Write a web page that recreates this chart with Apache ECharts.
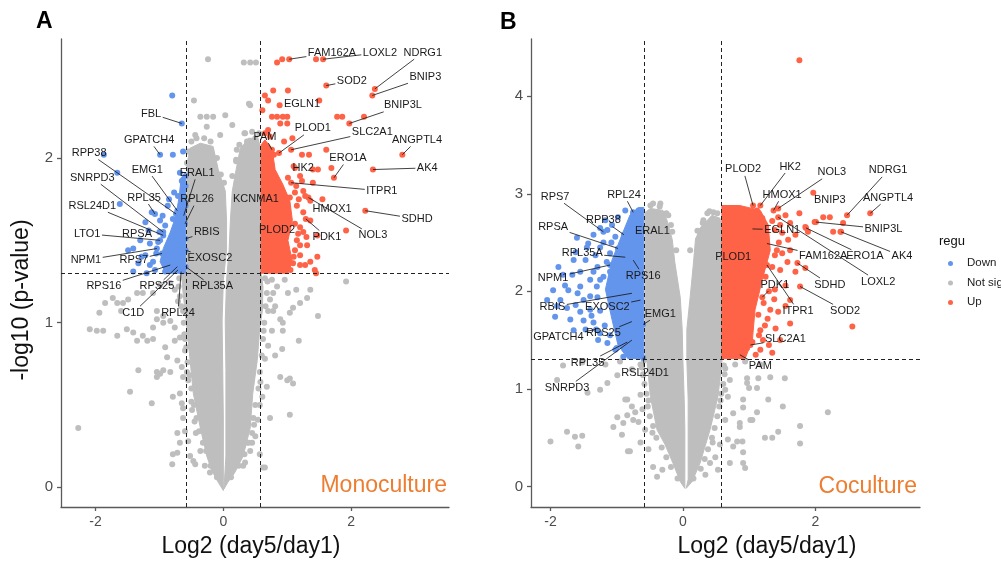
<!DOCTYPE html>
<html><head><meta charset="utf-8">
<script src="https://cdn.jsdelivr.net/npm/echarts@6/dist/echarts.min.js"></script>
<style>html,body{margin:0;padding:0;background:#fff}#c{width:1001px;height:565px}</style>
</head><body><div id="c"></div>
<script>
// ---------- thresholds / ticks ----------
const fcCut = 0.585, pCut = 1.301;
const xTicks = [-2, 0, 2];
const yTicksA = [0, 1, 2];
const yTicksB = [0, 1, 2, 3, 4];
const legendNames = ['Down', 'Not sig', 'Up'];
const panelTitles = ['Monoculture', 'Coculture'];
const xTitle = 'Log2 (day5/day1)';
const yTitle = '-log10 (p-value)';

// ---------- Panel A (Monoculture) ----------
// dense Not-sig cloud outlines (data units)
const greyCoreA_left = [[0.00,-0.02],[-0.08,0.03],[-0.18,0.10],[-0.26,0.19],[-0.36,0.36],[-0.47,0.57],[-0.52,0.77],[-0.57,0.97],[-0.63,1.18],[-0.65,1.29],[-0.57,1.32],[-0.57,1.96],[-0.52,2.06],[-0.36,2.09],[-0.16,2.07],[-0.08,1.93],[0.03,1.80],[0.05,1.62],[0.05,1.44],[0.0,1.26],[-0.02,1.01],[-0.01,0.71],[0.0,0.41],[0.0,0.19],[0.0,0.04]];
const greyCoreA_right = [[0.26,2.05],[0.39,2.12],[0.54,2.12],[0.59,2.05],[0.59,1.30],[0.62,1.22],[0.61,1.07],[0.57,0.97],[0.53,0.77],[0.46,0.57],[0.42,0.36],[0.31,0.19],[0.18,0.09],[0.07,0.03],[0.01,-0.01],[0.04,0.19],[0.04,0.41],[0.04,0.71],[0.03,1.01],[0.05,1.26],[0.09,1.44],[0.11,1.62],[0.14,1.80],[0.20,1.93]];
const blueCoreA = [[-0.66,1.88],[-0.59,1.91],[-0.59,1.30],[-0.90,1.30],[-0.99,1.37],[-0.94,1.45],[-0.83,1.55],[-0.74,1.65],[-0.69,1.77]];
const redCoreA = [[0.59,1.30],[1.01,1.30],[1.08,1.37],[1.01,1.50],[1.08,1.62],[1.04,1.74],[0.93,1.84],[0.81,1.93],[0.76,2.06],[0.65,2.11],[0.59,2.08]];

const greyA = [[-1.94,1.06],[-1.85,1.12],[-1.66,1.12],[-1.57,1.12],[-1.49,1.14],[-1.35,1.18],[-1.26,1.18],[-1.10,1.18],[-2.09,0.96],[-1.98,0.95],[-1.88,0.95],[-1.66,0.92],[-1.51,0.96],[-1.41,0.94],[-1.35,0.89],[-1.26,0.92],[-1.19,0.89],[-1.10,0.90],[-1.33,0.71],[-1.04,0.70],[-0.94,0.71],[-0.83,0.70],[-1.46,0.58],[-1.12,0.51],[-2.27,0.36],[-0.79,0.20],[-0.68,0.27],[-0.80,0.14],[-1.04,1.02],[-0.94,1.04],[-0.83,1.01],[-1.10,0.97],[-0.76,0.97],[-0.68,0.91],[-0.91,0.85],[-0.88,0.79],[-0.72,0.77],[-0.65,0.73],[-0.68,0.57],[-0.65,0.51],[-0.63,0.42],[-0.60,0.34],[-0.55,0.28],[-0.52,0.19],[-0.44,0.14],[-0.99,1.23],[-0.83,1.24],[-0.76,1.20],[-1.73,1.15],[-1.60,1.07],[-0.63,1.07],[-0.71,1.13],[-0.60,0.83],[-0.55,0.65],[-0.49,0.47],[-0.43,0.33],[-0.36,0.22],[-0.29,0.13],[-0.21,0.09],
 [-1.04,1.07],[-0.94,1.00],[-0.76,0.89],[-1.04,0.67],[-0.99,0.69],[-0.63,0.67],[-0.79,0.55],[-0.63,0.48],[-0.72,0.33],[-0.72,0.21],[-0.47,0.16],
 [-0.10,0.06],[-0.20,0.13],[-0.27,0.22],[-0.32,0.27],[-0.38,0.34],[-0.42,0.42],[-0.46,0.50],[-0.50,0.60],[-0.53,0.68],[-0.56,0.76],[-0.58,0.85],[-0.61,0.93],[-0.62,1.00],[-0.66,1.10],[-0.68,1.16],[-0.70,1.22],[-0.69,1.27],[-0.45,0.40],[-0.50,0.52],[-0.57,0.70],[-0.60,0.90],
 [1.92,1.25],[1.48,1.04],[1.18,0.89],[1.31,1.15],[1.20,1.12],[1.09,1.09],[1.04,1.06],[0.93,1.00],[0.93,0.95],[0.92,0.84],[0.89,0.67],[1.04,0.66],[1.09,0.63],[1.04,0.44],[0.73,0.42],[0.45,0.27],[0.31,0.13],[0.62,0.12],[1.01,1.18],[0.84,1.22],[0.78,1.18],[0.73,1.14],[0.70,1.07],[0.81,1.10],[0.89,1.02],[0.76,0.95],[0.70,0.86],[0.81,0.80],[0.65,0.78],[0.68,0.61],[0.61,0.55],[0.57,0.50],[0.54,0.41],[0.50,0.31],[0.42,0.22],[0.34,0.15],[0.65,1.27],[0.76,1.26],[0.96,1.26],[1.14,1.20],[1.36,1.20],
 [0.78,1.07],[1.00,0.65],[0.37,0.27],[0.57,0.20],[0.65,0.12],
 [0.12,0.06],[0.24,0.13],[0.33,0.20],[0.40,0.27],[0.45,0.33],[0.47,0.42],[0.50,0.50],[0.55,0.60],[0.57,0.70],[0.60,0.80],[0.62,0.90],[0.64,1.00],[0.66,1.10],[0.68,1.18],[0.69,1.25],[0.48,0.38],[0.58,0.64],[0.63,0.95],
 [-0.24,2.60],[0.32,2.58],[0.42,2.58],[0.51,2.58],[0.42,2.32],[-0.36,2.25],[-0.26,2.25],[-0.16,2.25],[-0.26,2.19],[0.40,2.33],[0.34,2.15],[0.31,2.06],[-0.55,2.04],[-0.57,1.97],[0.21,2.05],[0.37,2.10],[0.50,2.12],[0.52,2.08],[0.03,2.26],[0.14,2.20],[-0.05,2.14],[-0.44,2.14],[-0.15,1.99],[0.14,1.89],[0.20,1.99],[-0.46,2.35],
 [-0.50,2.10],[-0.42,2.12],[-0.30,2.12],[-0.20,2.10],[-0.10,2.00],[-0.04,1.90],[0.01,1.85],[0.20,1.98],[0.25,2.08],[0.33,2.15],[0.45,2.16],[0.56,2.15]];
const blueA = [[-0.80,2.38],[-0.79,2.02],[-0.63,2.04],[-1.87,2.02],[-1.66,1.91],[-1.62,1.72],[-1.12,1.67],[-0.68,1.91],[-0.65,1.86],[-0.59,1.83],[-0.71,1.77],[-0.61,1.74],[-0.77,1.79],[-0.87,1.71],[-0.66,1.71],[-1.41,1.45],[-1.33,1.36],[-1.41,1.31],[-1.10,1.37],[-1.22,1.41],[-1.17,1.56],[-1.30,1.50],[-0.91,1.59],[-0.83,1.47],[-0.76,1.53],[-0.91,1.38],[-1.07,1.32],[-0.91,1.31],[-0.80,1.41],[-0.71,1.47],[-0.68,1.57],[-0.59,1.71],[-0.59,1.89],[-0.79,1.63],[-0.99,1.62],[-1.22,1.61],[-1.49,1.44],[-1.15,1.35],
 [-1.00,1.55],[-1.05,1.42],[-0.95,1.65],[-1.15,1.48],[-0.85,1.75],[-1.28,1.40],[-1.20,1.30]];
const redA = [[0.84,2.58],[0.92,2.60],[1.45,2.60],[0.78,2.41],[1.01,2.41],[0.65,2.38],[0.76,2.25],[0.84,2.25],[0.93,2.25],[1.00,2.25],[1.78,2.25],[1.86,2.25],[2.20,2.25],[0.89,2.21],[1.00,2.21],[0.65,2.15],[0.73,2.13],[0.68,2.03],[0.79,2.02],[1.23,2.02],[1.34,2.02],[1.61,2.05],[1.69,1.94],[1.48,1.93],[1.40,1.93],[1.01,1.88],[1.23,1.86],[1.25,1.80],[1.12,1.79],[1.28,1.77],[1.04,1.76],[1.25,1.67],[1.36,1.62],[1.20,1.58],[1.17,1.54],[1.47,1.53],[1.92,1.56],[1.12,1.44],[1.47,1.40],[1.43,1.32],[1.09,1.36],[1.45,1.30],[1.20,1.47],[1.28,1.35],[0.61,2.29],[0.70,2.17],[1.15,1.71],[1.20,1.35],[0.96,1.77],[1.14,1.83],[1.20,1.89],[0.64,1.99],[0.81,1.86],[1.20,1.41],[1.31,1.47],[1.36,1.37],
 [1.12,1.60],[1.15,1.50],[1.25,1.55],[1.10,1.40],[1.05,1.32],[1.18,1.75],[1.10,1.95],[0.95,2.10],[1.08,2.12],[0.70,2.35],[0.88,2.32],[1.40,1.85],[1.55,1.75],[1.30,1.52]];
// labelled genes: [name, log2FC, -log10 p]
const genesDownA = [['FBL',-0.65,2.21],['GPATCH4',-0.99,2.02],['RPP38',-0.74,1.66],['EMG1',-0.72,1.68],['ERAL1',-0.62,1.65],['SNRPD3',-0.94,1.55],['RPL35',-1.07,1.66],['RPL26',-0.60,1.60],['RSL24D1',-0.94,1.53],['RBIS',-0.59,1.51],['LTO1',-0.99,1.50],['RPSA',-1.02,1.49],['NPM1',-1.04,1.45],['RPS7',-0.96,1.42],['EXOSC2',-0.59,1.44],['RPS16',-0.83,1.35],['RPS25',-0.72,1.34],['RPL35A',-0.59,1.34],['C1D',-0.71,1.32],['RPL24',-0.66,1.31]];
const genesUpA = [['FAM162A',1.03,2.60],['LOXL2',1.56,2.60],['NDRG1',2.37,2.42],['SOD2',1.61,2.44],['BNIP3',2.33,2.38],['EGLN1',1.50,2.35],['BNIP3L',1.97,2.21],['PAM',0.76,2.05],['PLOD1',0.87,2.03],['SLC2A1',1.06,2.05],['ANGPTL4',2.80,2.02],['HK2',1.12,1.94],['ERO1A',1.73,1.88],['AK4',2.34,1.93],['ITPR1',1.06,1.85],['KCNMA1',0.64,1.72],['HMOX1',1.36,1.74],['SDHD',2.22,1.68],['PDK1',1.29,1.63],['NOL3',1.33,1.76],['PLOD2',0.76,1.55]];
// repelled label anchors (data units), same order as genesDownA + genesUpA
const labelAtA = [[-1.13,2.27],[-1.16,2.11],[-2.10,2.03],[-1.19,1.93],[-0.41,1.91],[-2.05,1.88],[-1.24,1.76],[-0.41,1.75],[-2.05,1.71],[-0.26,1.55],[-2.13,1.54],[-1.35,1.54],[-2.15,1.38],[-1.40,1.38],[-0.21,1.39],[-1.87,1.22],[-1.04,1.22],[-0.17,1.22],[-1.41,1.06],[-0.71,1.06],
 [1.70,2.64],[2.45,2.64],[3.12,2.64],[2.01,2.47],[3.16,2.49],[1.23,2.33],[2.81,2.32],[0.65,2.13],[1.40,2.18],[2.33,2.16],[3.03,2.11],[1.25,1.94],[1.95,2.00],[3.19,1.94],[2.48,1.80],[0.51,1.75],[1.70,1.69],[3.03,1.63],[1.62,1.52],[2.34,1.53],[0.84,1.56]];

// ---------- Panel B (Coculture) ----------
const greyCoreB_left = [[0.03,-0.02],[-0.04,0.05],[-0.15,0.24],[-0.27,0.43],[-0.39,0.58],[-0.49,0.92],[-0.54,1.27],[-0.57,1.31],[-0.57,2.81],[-0.49,2.85],[-0.30,2.83],[-0.24,2.73],[-0.16,2.53],[-0.12,2.29],[-0.04,1.94],[-0.01,1.61],[0.00,1.30],[0.02,0.89],[0.03,0.58],[0.03,0.27],[0.03,0.07]];
const greyCoreB_right = [[0.08,0.07],[0.08,0.58],[0.08,0.89],[0.06,1.30],[0.06,1.61],[0.11,1.94],[0.16,2.29],[0.19,2.53],[0.26,2.65],[0.44,2.78],[0.56,2.75],[0.59,2.63],[0.59,1.31],[0.59,1.27],[0.53,0.92],[0.41,0.58],[0.26,0.24],[0.14,0.05],[0.05,-0.02]];
const blueCoreB = [[-0.59,2.86],[-0.59,1.31],[-0.83,1.31],[-0.98,1.45],[-1.07,1.71],[-1.17,2.02],[-1.07,2.32],[-0.92,2.58],[-0.80,2.78],[-0.67,2.86]];
const redCoreB = [[0.59,2.88],[0.59,1.31],[0.94,1.31],[1.05,1.50],[1.09,1.81],[1.20,2.12],[1.32,2.42],[1.29,2.68],[1.17,2.83],[0.86,2.88]];

const greyB = [[-1.81,1.24],[-1.52,1.27],[-1.90,1.09],[-1.14,1.06],[-0.99,1.14],[-1.44,0.96],[-1.25,0.99],[-0.84,0.89],[-0.77,0.82],[-0.90,0.65],[-1.05,0.61],[-0.99,0.71],[-1.75,0.56],[-1.63,0.51],[-1.52,0.52],[-2.00,0.46],[-1.58,0.41],[-0.92,0.53],[-0.83,0.36],[-0.64,0.45],[-0.75,0.68],[-0.87,0.89],[-0.84,0.73],[-0.80,0.36],[-0.72,0.76],[-0.67,0.66],[-0.45,0.20],[-0.39,0.10],[-0.64,0.94],[-0.60,1.14],[-0.64,1.25],[-0.77,1.20],[-0.95,1.28],[-1.17,1.25],[-0.57,0.58],[-0.52,0.38],[-0.31,0.17],[-0.61,0.79],
 [-0.08,0.08],[-0.18,0.20],[-0.25,0.30],[-0.32,0.40],[-0.40,0.50],[-0.45,0.62],[-0.50,0.72],[-0.53,0.82],[-0.55,0.95],[-0.58,1.05],[-0.60,1.15],[-0.62,1.22],[-0.59,1.29],[-0.46,0.55],[-0.52,0.88],
 [0.68,0.92],[0.76,0.75],[0.86,0.61],[0.68,0.48],[0.49,0.30],[0.41,0.24],[0.53,0.17],[0.97,1.06],[1.05,0.68],[0.82,0.46],[0.91,0.24],[0.97,1.11],[1.14,1.11],[1.32,1.12],[1.54,1.11],[1.00,1.01],[1.12,1.01],[1.29,0.89],[0.91,0.89],[1.51,0.82],[1.12,0.76],[0.91,0.81],[1.02,0.68],[0.86,0.65],[2.19,0.76],[1.77,0.62],[1.44,0.56],[1.24,0.50],[1.35,0.50],[1.77,0.44],[0.90,0.46],[0.76,0.41],[0.91,0.35],[0.71,0.24],[0.94,0.19],[0.64,1.21],[0.79,1.25],[0.94,1.28],[1.17,1.25],[0.71,1.09],[0.64,0.68],[0.56,0.43],[0.34,0.12],[0.64,0.99],
 [0.16,0.08],[0.27,0.18],[0.33,0.28],[0.38,0.38],[0.44,0.50],[0.48,0.60],[0.52,0.72],[0.55,0.82],[0.58,0.95],[0.61,1.05],[0.63,1.15],[0.62,1.24],[0.45,0.45],[0.57,0.88],
 [0.37,2.80],[0.46,2.81],[0.31,2.73],[-0.49,2.88],[-0.34,2.90],[-0.42,2.78],[-0.22,2.78],[0.11,2.42],[0.23,2.53],[-0.16,2.61],[-0.10,2.42],
 [-0.45,2.90],[-0.35,2.87],[-0.25,2.80],[-0.18,2.68],[0.22,2.62],[0.30,2.70],[0.40,2.82],[0.52,2.80]];
const blueB = [[-1.88,2.25],[-2.05,1.91],[-1.93,1.74],[-1.70,1.71],[-1.55,1.79],[-1.50,1.91],[-1.29,1.94],[-1.25,2.12],[-1.29,2.25],[-1.10,2.20],[-1.59,1.98],[-1.35,1.68],[-1.25,1.57],[-1.14,1.47],[-1.02,1.40],[-0.90,1.33],[-0.80,1.35],[-1.43,2.49],[-1.25,2.45],[-1.14,2.63],[-1.02,2.56],[-1.10,2.39],[-0.98,2.76],[-0.75,2.80],[-0.67,2.83],[-0.82,2.66],[-1.78,2.06],[-1.67,2.17],[-1.40,2.12],[-1.47,2.32],[-1.32,2.37],[-1.85,1.91],[-1.75,1.83],[-1.62,1.86],[-1.40,1.81],[-1.47,1.61],[-1.28,1.50],[-1.10,1.86],[-1.55,2.20],[-1.73,2.01],[-1.81,2.17],[-1.96,2.01],[-1.65,2.32],[-1.35,2.58],[-1.17,2.73],[-1.07,2.68],[-0.87,2.83],
 [-1.20,2.50],[-1.15,2.30],[-1.20,2.15],[-1.30,2.05],[-1.25,1.80],[-1.18,1.65],[-1.10,1.55],[-1.40,1.95],[-1.55,2.05],[-1.45,2.45],[-1.35,2.20],[-1.62,2.40],[-1.50,1.70],[-1.65,1.60],[-1.00,1.42],[-1.08,2.50],[-1.25,2.65],[-1.60,2.55],[-1.90,1.85],[-1.38,1.75]];
const redB = [[1.76,4.37],[1.76,2.80],[1.55,2.78],[1.12,2.83],[2.12,2.76],[2.22,2.76],[1.99,2.71],[2.42,2.70],[2.27,2.61],[2.38,2.61],[1.85,2.66],[1.89,2.61],[1.59,2.53],[1.39,2.63],[1.50,2.39],[1.85,2.24],[1.35,2.25],[0.90,2.80],[0.76,2.76],[0.64,2.80],[1.44,1.79],[1.62,1.67],[2.56,1.64],[1.21,1.50],[1.35,1.37],[1.05,1.48],[0.97,1.42],[1.47,2.22],[1.39,2.02],[1.32,1.81],[1.24,1.65],[1.17,1.40],[1.47,1.50],[1.62,1.91],[1.55,2.06],[1.62,2.42],[1.70,2.58],[1.47,2.68],[1.17,1.60],[1.14,1.76],[1.39,2.37],
 [1.12,2.50],[1.18,2.35],[1.25,2.15],[1.30,2.00],[1.22,1.88],[1.15,1.55],[1.28,1.72],[1.40,1.62],[1.55,1.85],[1.58,2.30],[1.45,2.50],[1.35,2.72],[1.62,2.70],[1.70,2.20],[1.30,1.45],[1.10,1.35],[1.38,1.92],[1.50,2.60],[1.25,2.60],[1.08,2.70],[1.20,2.75],[1.42,2.42]];
const genesDownB = [['RPS7',-1.20,2.61],['RPL24',-0.75,2.81],['RPP38',-0.89,2.58],['RPSA',-0.98,2.44],['ERAL1',-0.64,2.65],['RPL35A',-0.87,2.35],['RPS16',-0.75,2.32],['NPM1',-1.10,2.27],['RBIS',-0.77,1.98],['EXOSC2',-0.64,1.91],['EMG1',-0.60,1.66],['GPATCH4',-1.31,1.61],['RPS25',-0.77,1.69],['RPL35',-0.84,1.48],['SNRPD3',-0.77,1.50],['RSL24D1',-0.60,1.32]];
const genesUpB = [['PLOD2',1.06,2.88],['HK2',1.17,2.88],['NOL3',1.44,2.85],['NDRG1',2.48,2.78],['HMOX1',1.37,2.83],['BNIP3',1.97,3.01],['ANGPTL4',2.83,2.80],['EGLN1',1.05,2.64],['BNIP3L',2.01,2.71],['PLOD1',0.86,2.30],['FAM162A',1.27,2.49],['ERO1A',1.86,2.65],['AK4',2.39,2.61],['LOXL2',1.44,2.76],['PDK1',1.20,1.94],['SDHD',1.73,2.29],['ITPR1',1.27,2.27],['SOD2',1.77,2.05],['SLC2A1',1.02,1.45],['PAM',0.86,1.35]];
const labelAtB = [[-1.93,2.97],[-0.89,2.99],[-1.20,2.73],[-1.96,2.66],[-0.46,2.62],[-1.52,2.39],[-0.60,2.16],[-1.96,2.14],[-1.97,1.84],[-1.14,1.84],[-0.34,1.77],[-1.88,1.53],[-1.20,1.57],[-1.44,1.27],[-1.75,1.01],[-0.57,1.16],
 [0.91,3.25],[1.62,3.28],[2.25,3.22],[3.10,3.24],[1.50,2.99],[2.22,2.94],[3.10,2.96],[1.50,2.63],[3.03,2.64],[0.76,2.35],[2.12,2.36],[2.75,2.36],[3.31,2.36],[2.95,2.10],[1.39,2.07],[2.22,2.07],[1.74,1.80],[2.45,1.80],[1.55,1.51],[1.17,1.23]];

// ---------- styling ----------
const COL = {Down: '#6495ED', 'Not sig': '#BEBEBE', Up: '#FF6347'};
const FONT = '"Liberation Sans", Arial, sans-serif';
const labelFont = '11px ' + FONT;
const mctx = document.createElement('canvas').getContext('2d');
mctx.font = labelFont;

function polySeries(idx, pts, color, z) {
  return {
    type: 'custom', xAxisIndex: idx, yAxisIndex: idx, z: z, silent: true,
    data: [[pts[0][0], pts[0][1]]],
    renderItem: function (params, api) {
      return {type: 'polygon', shape: {points: pts.map(p => api.coord(p))},
              style: {fill: color, stroke: color, lineWidth: 1}};
    }
  };
}
function dots(idx, data, color) {
  return {type: 'scatter', xAxisIndex: idx, yAxisIndex: idx, z: 3, silent: true,
          symbolSize: 6, itemStyle: {color: color, opacity: 1}, data: data};
}
function labelSeries(idx, genes, at) {
  return {
    type: 'custom', xAxisIndex: idx, yAxisIndex: idx, z: 6, silent: true,
    data: genes.map(g => [g[1], g[2]]),
    renderItem: function (params, api) {
      const i = params.dataIndex, g = genes[i];
      const p = api.coord([g[1], g[2]]), l = api.coord(at[i]);
      const w = mctx.measureText(g[0]).width;
      const hw = w / 2 + 1.5, hh = 6.5;
      const dx = p[0] - l[0], dy = p[1] - l[1];
      const t = Math.min(dx ? hw / Math.abs(dx) : Infinity, dy ? hh / Math.abs(dy) : Infinity);
      const ch = [];
      const len = Math.hypot(dx, dy) * (1 - t);
      if (t < 1 && len > 5) {
        ch.push({type: 'line', shape: {x1: l[0] + dx * t, y1: l[1] + dy * t, x2: p[0], y2: p[1]},
                 style: {stroke: '#111', lineWidth: 0.8}});
      }
      ch.push({type: 'text', style: {text: g[0], x: l[0], y: l[1], align: 'center', verticalAlign: 'middle',
               font: labelFont, fill: '#1a1a1a'}});
      return {type: 'group', children: ch};
    }
  };
}
function cutLines(idx) {
  return {type: 'scatter', xAxisIndex: idx, yAxisIndex: idx, z: 5, silent: true, data: [],
    markLine: {silent: true, symbol: 'none', animation: false, label: {show: false},
      lineStyle: {type: [4, 3], color: '#222', width: 1},
      data: [{xAxis: -fcCut}, {xAxis: fcCut}, {yAxis: pCut}]}};
}

const axisLineStyle = {color: '#5a5a5a', width: 1.3};
function xAxis(idx, min, max) {
  return {type: 'value', gridIndex: idx, min: min, max: max, splitLine: {show: false},
    axisLine: {show: true, onZero: false, lineStyle: axisLineStyle},
    axisTick: {show: true, length: 4, customValues: xTicks, lineStyle: axisLineStyle},
    axisLabel: {customValues: xTicks, color: '#4d4d4d', fontSize: 14, fontFamily: FONT, margin: 8}};
}
function yAxis(idx, min, max, ticks) {
  return {type: 'value', gridIndex: idx, min: min, max: max, splitLine: {show: false},
    axisLine: {show: true, onZero: false, lineStyle: axisLineStyle},
    axisTick: {show: true, length: 4, customValues: ticks, lineStyle: axisLineStyle},
    axisLabel: {customValues: ticks, color: '#4d4d4d', fontSize: 15, fontFamily: FONT, margin: 8}};
}

const series = [
  polySeries(0, greyCoreA_left, COL['Not sig'], 1), polySeries(0, greyCoreA_right, COL['Not sig'], 1),
  polySeries(0, blueCoreA, COL.Down, 2), polySeries(0, redCoreA, COL.Up, 2),
  dots(0, greyA, COL['Not sig']),
  dots(0, blueA.concat(genesDownA.map(g => [g[1], g[2]])), COL.Down),
  dots(0, redA.concat(genesUpA.map(g => [g[1], g[2]])), COL.Up),
  cutLines(0),
  labelSeries(0, genesDownA.concat(genesUpA), labelAtA),

  polySeries(1, greyCoreB_left, COL['Not sig'], 1), polySeries(1, greyCoreB_right, COL['Not sig'], 1),
  polySeries(1, blueCoreB, COL.Down, 2), polySeries(1, redCoreB, COL.Up, 2),
  dots(1, greyB, COL['Not sig']),
  dots(1, blueB.concat(genesDownB.map(g => [g[1], g[2]])), COL.Down),
  dots(1, redB.concat(genesUpB.map(g => [g[1], g[2]])), COL.Up),
  cutLines(1),
  labelSeries(1, genesDownB.concat(genesUpB), labelAtB)
];

const legendItems = [];
legendNames.forEach((n, i) => {
  legendItems.push({type: 'circle', left: 948, top: 261 + i * 19.5, shape: {r: 2.5}, style: {fill: COL[n]}});
  legendItems.push({type: 'text', left: 967, top: 257 + i * 19.5, style: {text: n, font: '11.5px ' + FONT, fill: '#222'}});
});
const titleFont = '23px ' + FONT;

const chart = echarts.init(document.getElementById('c'), null, {renderer: 'canvas'});
chart.setOption({
  animation: false,
  backgroundColor: '#fff',
  grid: [{left: 61, top: 39, width: 388, height: 468},
         {left: 531, top: 39, width: 389, height: 468}],
  xAxis: [xAxis(0, -2.54, 3.53), xAxis(1, -2.294, 3.582)],
  yAxis: [yAxis(0, -0.12, 2.723, yTicksA), yAxis(1, -0.211, 4.587, yTicksB)],
  series: series,
  graphic: [
    {type: 'text', left: 36, top: 10, style: {text: 'A', font: 'bold 23px ' + FONT, fill: '#000'}},
    {type: 'text', left: 500, top: 11, style: {text: 'B', font: 'bold 23px ' + FONT, fill: '#000'}},
    {type: 'text', x: 251, y: 547, style: {text: xTitle, font: titleFont, fill: '#111', align: 'center', verticalAlign: 'middle'}},
    {type: 'text', x: 767, y: 547, style: {text: xTitle, font: titleFont, fill: '#111', align: 'center', verticalAlign: 'middle'}},
    {type: 'text', x: 22, y: 300, rotation: Math.PI / 2, style: {text: yTitle, font: titleFont, fill: '#111', align: 'center', verticalAlign: 'middle'}},
    {type: 'text', right: 1001 - 447, top: 474, style: {text: panelTitles[0], font: '23px ' + FONT, fill: '#ED7D31'}},
    {type: 'text', right: 1001 - 917, top: 475, style: {text: panelTitles[1], font: '23px ' + FONT, fill: '#ED7D31'}},
    {type: 'text', left: 939, top: 235, style: {text: 'regu', font: '13px ' + FONT, fill: '#111'}}
  ].concat(legendItems)
});
</script></body></html>
